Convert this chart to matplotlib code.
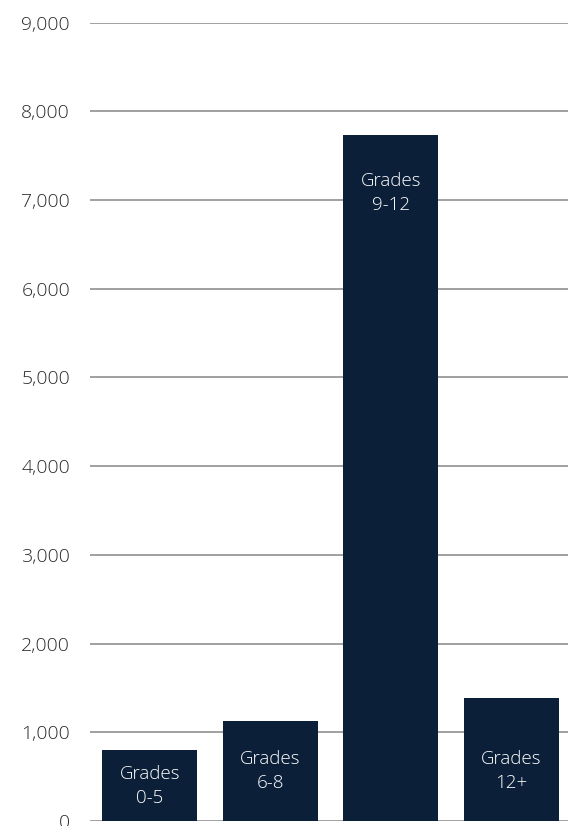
import matplotlib
matplotlib.use("Agg")
import matplotlib.pyplot as plt
import numpy as np

categories = ["Grades\n0-5", "Grades\n6-8", "Grades\n9-12", "Grades\n12+"]
values = [795, 1130, 7735, 1385]
yticks = [0, 1000, 2000, 3000, 4000, 5000, 6000, 7000, 8000, 9000]

bar_color = "#0b1f38"
grid_color = "#a0a0a0"

plt.rcParams["font.family"] = ["Open Sans", "DejaVu Sans"]

fig = plt.figure(figsize=(5.68, 8.26), dpi=100)
ax = fig.add_axes([0.1576, 0.0061, 0.8424, 0.9664])

x = np.arange(len(categories))
ax.bar(x, values, width=0.79, color=bar_color, zorder=3)

# label placement inside bars: near the top for tall bars, low for short ones
for xi, v, lab in zip(x, values, categories):
    ly = v - 655 if v > 3000 else min(v * 0.5, 560)
    ax.text(xi, ly, lab, ha="center", va="center", color="white",
            fontsize=13.5, fontweight="light", linespacing=1.45, zorder=4)

ax.set_xlim(-0.5, 3.471)
ax.set_ylim(0, 9000)
ax.set_yticks(yticks)
ax.set_yticklabels([f"{t:,}" for t in yticks], fontsize=14, color="#2b2b2b",
                   fontweight="light")
ax.set_xticks([])
ax.yaxis.grid(True, color=grid_color, linewidth=1.4, zorder=0)
ax.tick_params(axis="y", length=0, pad=14)
for s in ax.spines.values():
    s.set_visible(False)

fig.savefig("out.png", dpi=100)
